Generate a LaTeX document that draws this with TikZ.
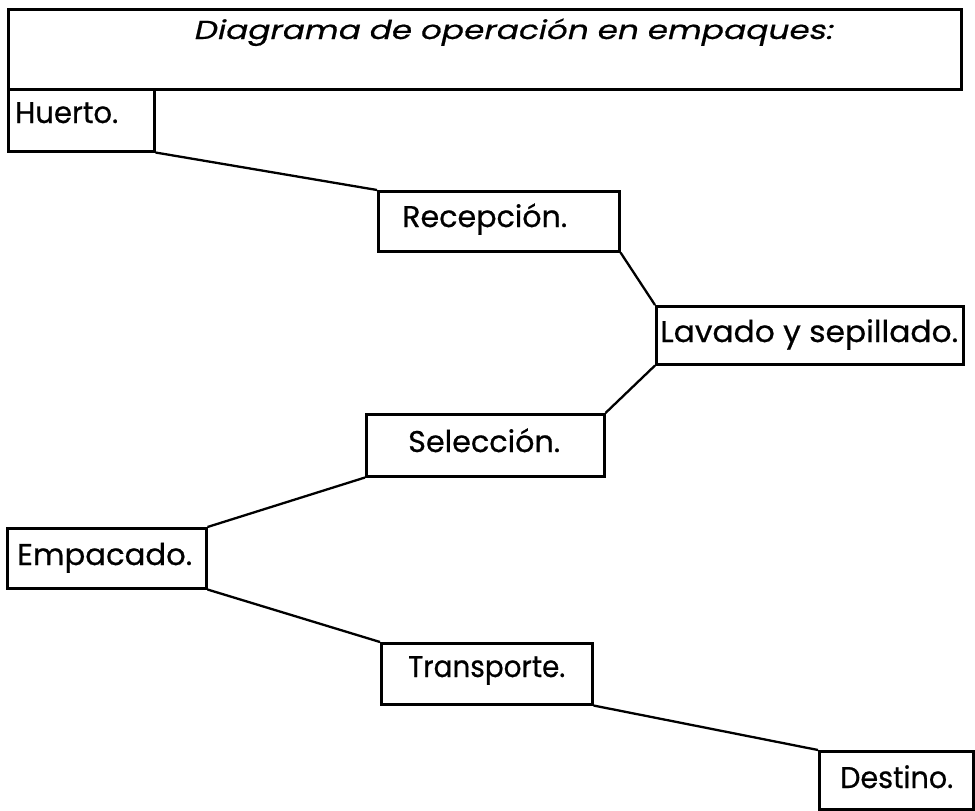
\documentclass[tikz,border=0pt]{standalone}
\usepackage{fontspec}
\usepackage{graphicx}
\setmainfont{Poppins}
\newfontfamily\bodyfont[FakeBold=0.6]{Poppins}
\newfontfamily\titlefont[FakeSlant=0.18,FakeBold=0.6]{Poppins}
\newcommand{\fitw}[2]{\resizebox{#1}{\height}{#2}}
\begin{document}
\begin{tikzpicture}[x=1pt,y=-1pt,
  box/.style={draw=black, line width=2.5pt, rectangle, inner sep=0pt, anchor=north west},
  txt/.style={inner sep=0pt, anchor=base west, font=\bodyfont\fontsize{30}{33}\selectfont},
  conn/.style={draw=black, line width=2.3pt}]
\useasboundingbox (0,0) rectangle (975,811);
% boxes
\node[box, minimum width=953pt, minimum height=80pt] (title) at (7,8) {};
\node[box, minimum width=146pt, minimum height=62pt] (hue) at (7,88) {};
\node[box, minimum width=241pt, minimum height=60pt] (rec) at (377,190) {};
\node[box, minimum width=307pt, minimum height=58pt] (lav) at (655,305) {};
\node[box, minimum width=238pt, minimum height=62pt] (sel) at (365,413) {};
\node[box, minimum width=199pt, minimum height=60pt] (emp) at (6,527) {};
\node[box, minimum width=211pt, minimum height=61pt] (tra) at (380,642) {};
\node[box, minimum width=154pt, minimum height=58pt] (des) at (818,750) {};
% texts
\node[inner sep=0pt, anchor=base west, font=\titlefont\fontsize{26}{29}\selectfont] (title-t) at (193,39) {\fitw{639pt}{Diagrama de operación en empaques:}};
\node[txt] (hue-t) at (15,123) {\fitw{103pt}{Huerto.}};
\node[txt] (rec-t) at (402,227) {\fitw{165pt}{Recepción.}};
\node[txt] (lav-t) at (660,342) {\fitw{298pt}{Lavado y sepillado.}};
\node[txt] (sel-t) at (408,452) {\fitw{152pt}{Selección.}};
\node[txt] (emp-t) at (17,565) {\fitw{175pt}{Empacado.}};
\node[txt] (tra-t) at (408,677) {\fitw{157pt}{Transporte.}};
\node[txt] (des-t) at (840,788) {\fitw{113pt}{Destino.}};
% connectors
\draw[conn] (hue.south east) -- (rec.north west);
\draw[conn] (rec.south east) -- (lav.north west);
\draw[conn] (lav.south west) -- (sel.north east);
\draw[conn] (sel.south west) -- (emp.north east);
\draw[conn] (emp.south east) -- (tra.north west);
\draw[conn] (tra.south east) -- (des.north west);
\end{tikzpicture}
\end{document}
